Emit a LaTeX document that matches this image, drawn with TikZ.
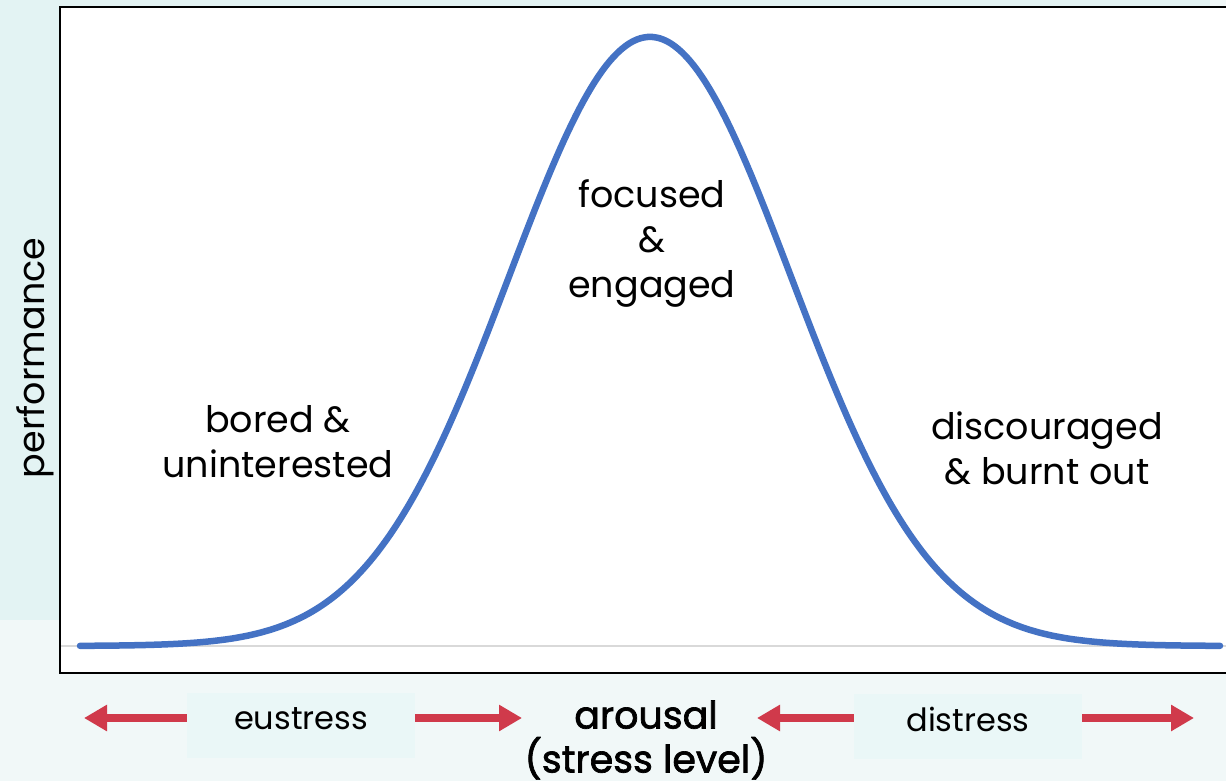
\documentclass[tikz,border=0pt]{standalone}
\usepackage{fontspec}
\setmainfont{Poppins}
\newfontfamily\popsemi[FakeBold=1.8]{Poppins}
\usetikzlibrary{arrows.meta}
\definecolor{tealbg}{HTML}{E3F3F3}
\definecolor{lightbg}{HTML}{F1F8F8}
\definecolor{labelbg}{HTML}{EAF7F7}
\definecolor{curveblue}{HTML}{4472C4}
\definecolor{arrowred}{HTML}{D03A4B}
\definecolor{basegray}{HTML}{D9D9D9}
\tikzset{
  lbl/.style={font=\fontsize{36.5}{45}\selectfont, align=center, inner sep=0pt},
  zonebox/.style={fill=labelbg, minimum width=228pt, minimum height=65pt, inner sep=0pt, text depth=14pt, font=\fontsize{32}{38}\selectfont},
  redarrow/.style={draw=arrowred, line width=8pt, -{Triangle[length=23pt,width=25pt]}},
}
\begin{document}
\begin{tikzpicture}[x=1pt,y=-1pt]
\useasboundingbox (0,0) rectangle (1226,781);
\fill[lightbg] (0,0) rectangle (1226,781);
\fill[tealbg] (0,0) rectangle (1210,620);
\draw[fill=white, line width=2pt] (60,7) rectangle (1240,673);
\draw[basegray, line width=1.5pt] (61,646) -- (1226,646);
\draw[curveblue, line width=6.5pt, line cap=round, line join=round]
  plot[domain=80:1220, samples=300] (\x,{646-609*exp(-((\x-650)/141)^2/2)});
\node[lbl, rotate=90] (perf) at (35,358) {performance};
\node[lbl] (bored) at (278,442) {bored \&\\uninterested};
\node[lbl] (focus) at (652,243.5) {focused\\\&\\engaged};
\node[lbl] (disc) at (1047,448) {discouraged\\\& burnt out};
\node[zonebox] (eu) at (301,725.5) {eustress};
\node[zonebox] (dis) at (968,726) {distress};
\node[lbl, font=\popsemi\fontsize{38}{44}\selectfont] (arousal) at (646,740) {arousal\\(stress level)};
\coordinate (t1) at (84,718);
\coordinate (t2) at (522,718);
\coordinate (t3) at (757,718);
\coordinate (t4) at (1194,718);
\draw[redarrow] (eu.west |- t1) -- (t1);
\draw[redarrow] (eu.east |- t2) -- (t2);
\draw[redarrow] (dis.west |- t3) -- (t3);
\draw[redarrow] (dis.east |- t4) -- (t4);
\end{tikzpicture}
\end{document}
